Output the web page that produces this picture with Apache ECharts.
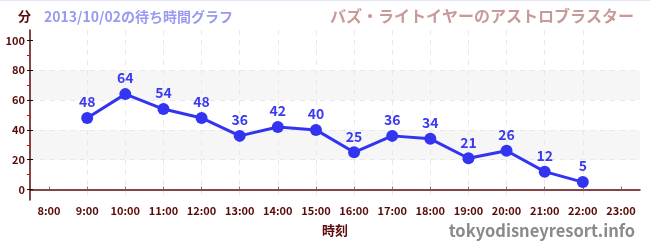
<!DOCTYPE html>
<html><head><meta charset="utf-8">
<script src="https://cdn.jsdelivr.net/npm/echarts@6/dist/echarts.min.js"></script>
<style>html,body{margin:0;padding:0;background:#fff}#c{width:650px;height:250px;border-top:1px solid #e4e4fa;box-sizing:border-box}</style>
</head><body><div id="c"></div>
<script>
const hours = [9, 10, 11, 12, 13, 14, 15, 16, 17, 18, 19, 20, 21, 22];
const waits = [48, 64, 54, 48, 36, 42, 40, 25, 36, 34, 21, 26, 12, 5];
const xTicks = [8, 9, 10, 11, 12, 13, 14, 15, 16, 17, 18, 19, 20, 21, 22, 23];
const yTicks = [0, 20, 40, 60, 80, 100];
const yMinorTicks = [10, 30, 50, 70, 90];
const titleText = '2013/10/02の待ち時間グラフ';
const attraction = 'バズ・ライトイヤーのアストロブラスター';

const FONT = '"Noto Sans CJK JP", "Noto Sans", sans-serif';
const MAROON = '#5a0a0a';
const data = hours.map((h, i) => [h, waits[i]]);

const chart = echarts.init(document.getElementById('c'));
chart.setOption({
  animation: false,
  textStyle: { fontFamily: FONT },
  title: [
    { text: '分', left: 13, top: 4, textStyle: { fontSize: 13, fontWeight: 'bold', color: MAROON, fontFamily: FONT } },
    { text: titleText, left: 39, top: 4, textStyle: { fontSize: 14, fontWeight: 'bold', color: '#9a9af0', fontFamily: FONT } },
    { text: attraction, right: 11, top: 2, textStyle: { fontSize: 16, fontWeight: 'bold', color: '#c89a9a', fontFamily: FONT } }
  ],
  graphic: [
    { type: 'text', right: 15, top: 221, style: { text: 'tokyodisneyresort.info', font: 'bold 16.5px ' + FONT, fill: '#8a8a8a' } }
  ],
  grid: { left: 30, right: 10, top: 29, bottom: 50 },
  xAxis: {
    type: 'value', min: 7.5, max: 23.5, interval: 1,
    name: '時刻', nameLocation: 'middle', nameGap: 24,
    nameTextStyle: { fontSize: 13, fontWeight: 'bold', color: MAROON, fontFamily: FONT },
    axisLine: { lineStyle: { color: MAROON, width: 1.5 } },
    axisTick: { inside: true, length: 3, lineStyle: { color: '#777' }, customValues: xTicks },
    axisLabel: { customValues: xTicks, formatter: v => v + ':00', fontSize: 11, fontWeight: 'bold', color: MAROON, margin: 5, fontFamily: FONT },
    splitLine: { show: true, showMinLine: false, showMaxLine: false, lineStyle: { type: [5, 5], color: '#e8e8e8' } }
  },
  yAxis: [
    {
      type: 'value', min: -7, max: 107, interval: 20,
      axisLine: { show: true, lineStyle: { color: MAROON, width: 1.5 } },
      axisTick: { show: true, length: 3, customValues: yTicks, lineStyle: { color: '#111' } },
      axisLabel: { customValues: yTicks, fontSize: 11, fontWeight: 'bold', color: MAROON, margin: 5, fontFamily: FONT },
      splitLine: { show: true, showMinLine: false, showMaxLine: false, lineStyle: { type: [5, 5], color: '#e8e8e8' } },
      splitArea: { show: true, areaStyle: { color: ['#ffffff', '#f6f6f6', '#ffffff', '#f6f6f6', '#ffffff', '#ffffff'] } }
    },
    {
      type: 'value', min: -7, max: 107, position: 'left',
      axisLine: { show: false },
      axisTick: { show: true, length: 3, customValues: yMinorTicks, lineStyle: { color: '#e00000' } },
      axisLabel: { show: false },
      splitLine: { show: false }
    },
    {
      type: 'value', min: -7, max: 107, position: 'left',
      axisLine: { show: false },
      axisTick: { show: true, inside: true, length: 3, customValues: yTicks, lineStyle: { color: '#111' } },
      axisLabel: { show: false },
      splitLine: { show: false }
    }
  ],
  series: [{
    type: 'line', data: data, yAxisIndex: 0,
    symbol: 'circle', symbolSize: 12,
    lineStyle: { color: '#3333f2', width: 3 },
    itemStyle: { color: '#3333f2' },
    label: { show: true, position: 'top', distance: 3, fontSize: 14, fontWeight: 'bold', color: '#3a3af0', fontFamily: FONT }
  }]
});
</script></body></html>
